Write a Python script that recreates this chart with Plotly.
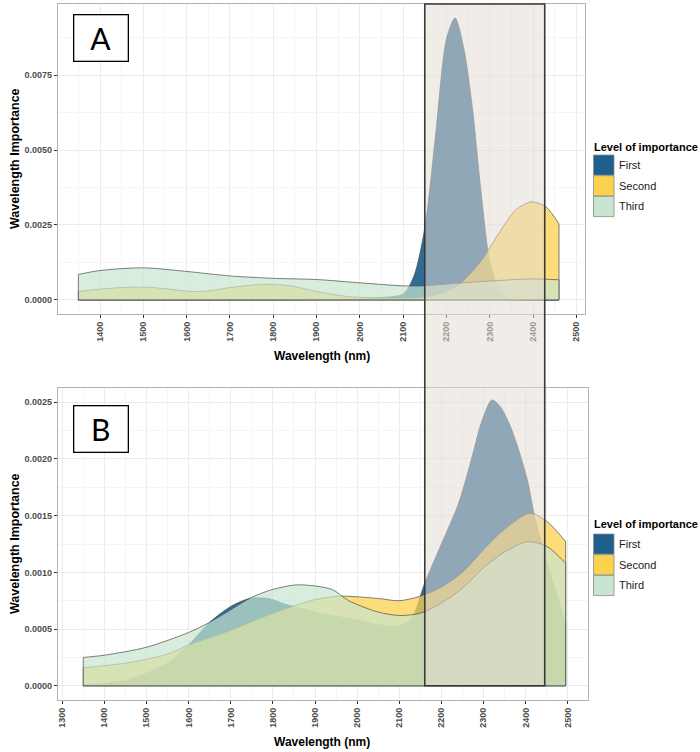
import plotly.graph_objects as go

# ---- data ----
series_names = ["First", "Second", "Third"]

# panel A
wl_a_first = [1350, 1600, 1900, 2000, 2050, 2100, 2125, 2150, 2175, 2200, 2220,
              2240, 2260, 2280, 2300, 2320, 2340, 2370, 2460]
imp_a_first = [0, 0, 0.00001, 0.00003, 0.00008, 0.0002, 0.0008, 0.0024, 0.0055, 0.0087, 0.0094,
               0.0084, 0.0064, 0.0036, 0.0013, 0.0004, 0.00005, 0, 0]

wl_a_second = [1350, 1400, 1460, 1515, 1560, 1610, 1650, 1705, 1780, 1840, 1900, 1975,
               2050, 2120, 2170, 2225, 2280, 2320, 2360, 2397, 2430, 2460]
imp_a_second = [0.00028, 0.00036, 0.00042, 0.00042, 0.00036, 0.00028, 0.0003, 0.00042, 0.00052,
                0.00047, 0.00028, 0.00011, 0.00007, 0.00007, 0.00015, 0.00047, 0.0013, 0.0022,
                0.003, 0.00327, 0.0031, 0.00253]

wl_a_third = [1350, 1400, 1500, 1600, 1700, 1800, 1900, 2000, 2100, 2150, 2200, 2300, 2400, 2460]
imp_a_third = [0.00085, 0.00098, 0.00107, 0.00095, 0.0008, 0.00072, 0.00068, 0.00057, 0.00047,
               0.00047, 0.00053, 0.00063, 0.0007, 0.00067]

# panel B
wl_b_first = [1350, 1450, 1550, 1600, 1650, 1700, 1745, 1790, 1830, 1900, 2000, 2050, 2100,
              2130, 2160, 2200, 2240, 2270, 2295, 2320, 2340, 2360, 2380, 2405, 2421,
              2450, 2475, 2495]
imp_b_first = [0.00001, 0.00005, 0.0002, 0.00036, 0.00056, 0.0007, 0.00077, 0.00077, 0.00072,
               0.00065, 0.00058, 0.00054, 0.00053, 0.0006, 0.0009, 0.00125, 0.0016, 0.00198,
               0.00232, 0.00252, 0.00246, 0.00232, 0.00212, 0.0018, 0.0015,
               0.0011, 0.0008, 0.00055]

wl_b_second = [1350, 1450, 1550, 1600, 1700, 1800, 1900, 1960, 2050, 2100, 2150, 2200, 2250,
               2300, 2350, 2410, 2450, 2495]
imp_b_second = [0.00016, 0.0002, 0.00028, 0.00036, 0.00049, 0.00064, 0.00076, 0.00079, 0.00077,
                0.00075, 0.00079, 0.00087, 0.001, 0.0012, 0.00138, 0.00152, 0.00145, 0.00127]

wl_b_third = [1350, 1400, 1500, 1600, 1650, 1700, 1750, 1800, 1860, 1940, 1980, 2050, 2100,
              2150, 2200, 2250, 2300, 2350, 2405, 2450, 2495]
imp_b_third = [0.00025, 0.00027, 0.00034, 0.00047, 0.00056, 0.00067, 0.00078, 0.00085, 0.00089,
               0.00085, 0.00075, 0.00065, 0.00062, 0.00064, 0.00073, 0.00086, 0.00104, 0.00118,
               0.00127, 0.00123, 0.00108]

highlight_nm = [2150, 2427]  # shaded band, in panel A wavelengths

# ---- styling ----
W, H = 700, 752
ML, MR, MT, MB = 58, 112, 4, 52
key_colors = ["#1F5F8E", "#FBD24E", "#C8E5CF"]
fill_colors = ["rgba(31,95,142,0.92)", "rgba(251,210,78,0.75)", "rgba(200,229,207,0.70)"]
OUTLINE = "#4A4A4A"
FONT = "Liberation Sans"


def px_x(px):
    return (px - ML) / (W - ML - MR)


def px_y(py):
    return (H - MB - py) / (H - MT - MB)


def add_density(fig, wl, imp, fill, xa, ya):
    fig.add_trace(go.Scatter(
        x=wl, y=imp, mode="lines", fill="tozeroy", fillcolor=fill,
        line=dict(shape="spline", smoothing=0.8, color=OUTLINE, width=0.7),
        xaxis=xa, yaxis=ya, hoverinfo="skip", showlegend=False
    ))
    # vertical ends and baseline of the density outline
    fig.add_trace(go.Scatter(
        x=[wl[0], wl[0], wl[-1], wl[-1]], y=[imp[0], 0, 0, imp[-1]],
        mode="lines", line=dict(color=OUTLINE, width=0.7),
        xaxis=xa, yaxis=ya, hoverinfo="skip", showlegend=False
    ))


fig = go.Figure()

panel_a = [(wl_a_first, imp_a_first), (wl_a_second, imp_a_second), (wl_a_third, imp_a_third)]
panel_b = [(wl_b_first, imp_b_first), (wl_b_second, imp_b_second), (wl_b_third, imp_b_third)]
for (wl, imp), fc in zip(panel_a, fill_colors):
    add_density(fig, wl, imp, fc, "x", "y")
for (wl, imp), fc in zip(panel_b, fill_colors):
    add_density(fig, wl, imp, fc, "x2", "y2")

tick_font = dict(family=FONT, size=9, color="#4D4D4D", weight="bold")
axis_common = dict(
    showline=True, mirror=True, linecolor="#B3B3B3", linewidth=1.2,
    showgrid=True, gridcolor="#EBEBEB", gridwidth=0.8, zeroline=False,
    ticks="outside", ticklen=3, tickcolor="#333333", tickwidth=0.8,
    tickfont=tick_font,
)

a_dom = [px_y(314), 1.0]
b_dom = [0.0, px_y(388)]
yb_range = [-0.000125, 0.002625]

fig.update_layout(
    width=W, height=H,
    margin=dict(l=ML, r=MR, t=MT, b=MB),
    plot_bgcolor="white", paper_bgcolor="white",
    showlegend=False,
    font=dict(family=FONT),
    xaxis=dict(axis_common, domain=[0, px_x(585)], anchor="y", range=[1303, 2520],
               dtick=100, tick0=1300, tickangle=-90,
               minor=dict(dtick=50, showgrid=True, gridcolor="#F5F5F5", gridwidth=0.5)),
    yaxis=dict(axis_common, domain=a_dom, anchor="x", range=[-0.00047, 0.00987],
               dtick=0.0025, tick0=0, tickformat=".4f",
               minor=dict(dtick=0.00125, showgrid=True, gridcolor="#F5F5F5", gridwidth=0.5)),
    xaxis2=dict(axis_common, domain=[0, 1], anchor="y2", range=[1290, 2548],
                dtick=100, tick0=1300, tickangle=-90,
                minor=dict(dtick=50, showgrid=True, gridcolor="#F5F5F5", gridwidth=0.5)),
    yaxis2=dict(axis_common, domain=b_dom, anchor="x2", range=yb_range,
                dtick=0.0005, tick0=0, tickformat=".4f",
                minor=dict(dtick=0.00025, showgrid=True, gridcolor="#F5F5F5", gridwidth=0.5)),
)

# highlight band spanning both panels, bottom at zero of panel B
b_zero = b_dom[0] + (b_dom[1] - b_dom[0]) * (0 - yb_range[0]) / (yb_range[1] - yb_range[0])
fig.add_shape(type="rect", xref="x", yref="paper",
              x0=highlight_nm[0], x1=highlight_nm[1], y0=b_zero, y1=1.0,
              fillcolor="rgba(226,219,209,0.53)", line=dict(color="#3A3A3A", width=1.6),
              layer="above")

# axis titles
title_font = dict(family=FONT, size=12.5, color="black", weight="bold")
for cy in [159, 544]:
    fig.add_annotation(text="Wavelength Importance", xref="paper", yref="paper",
                       x=px_x(15), y=px_y(cy), textangle=-90, showarrow=False,
                       font=title_font, xanchor="center", yanchor="middle")
for cy in [356, 742]:
    fig.add_annotation(text="Wavelength (nm)", xref="paper", yref="paper",
                       x=px_x(322), y=px_y(cy), showarrow=False,
                       font=dict(title_font, size=12), xanchor="center", yanchor="middle")

# panel letters
for letter, cy in [("A", 38.5), ("B", 429)]:
    fig.add_annotation(text=letter, xref="paper", yref="paper",
                       x=px_x(100.8), y=px_y(cy), showarrow=False,
                       font=dict(family="Lato", size=30, color="black"),
                       bgcolor="white", bordercolor="black", borderwidth=1.3, borderpad=0,
                       width=53, height=45, xanchor="center", yanchor="middle")

# legends (drawn per panel)
for title_y, key_top in [(147, 155), (524, 534)]:
    fig.add_annotation(text="Level of importance", xref="paper", yref="paper",
                       x=px_x(592), y=px_y(title_y), showarrow=False, xanchor="left",
                       yanchor="middle", font=dict(family=FONT, size=11, color="black", weight="bold"))
    for i, (name, kc) in enumerate(zip(series_names, key_colors)):
        top = key_top + i * 20.7
        fig.add_shape(type="rect", xref="paper", yref="paper",
                      x0=px_x(593.5), x1=px_x(614), y0=px_y(top + 20.2), y1=px_y(top),
                      fillcolor=kc, line=dict(color="#8C8C8C", width=0.8))
        fig.add_annotation(text=name, xref="paper", yref="paper",
                           x=px_x(617), y=px_y(top + 10), showarrow=False, xanchor="left",
                           yanchor="middle", font=dict(family=FONT, size=11, color="#1A1A1A"))

# page has a default body margin; remove it so the figure sits at the window corner
fig.write_html("out.html", config={"displayModeBar": False},
               post_script="document.body.style.margin='0';")
